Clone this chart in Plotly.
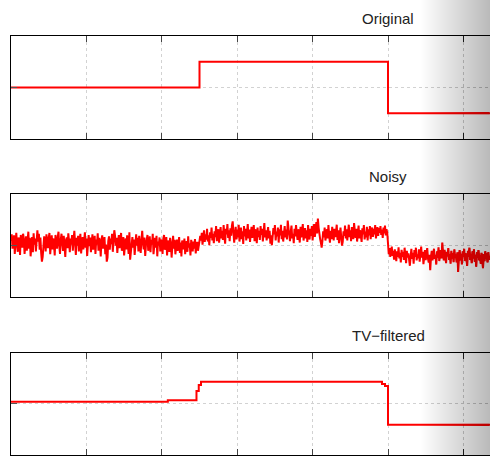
import plotly.graph_objects as go

# ---------------- data ----------------
titles = ["Original", "Noisy", "TV\u2212filtered"]
x_ticks = [100, 200, 300, 400, 500, 600]

orig_x = [0, 250, 500, 635]
orig_y = [0.0, 0.5, -0.5, -0.5]

noisy_seg1 = [
    0.20, 0.55, -0.15, 0.10, 0.50, -0.40, 0.30, 0.62, 0.05, -0.30,
    0.40, 0.15, -0.45, 0.52, 0.25, -0.10, 0.58, 0.35, -0.40, 0.10,
    0.45, -0.25, 0.28, 0.68, -0.15, 0.38, -0.52, 0.12, 0.42, -0.32,
    0.60, 0.05, 0.35, -0.28, 0.50, 0.75, 0.20, 0.58, -0.20, 0.40,
    -0.35, -0.78, -0.55, -0.05, 0.45, 0.15, -0.28, 0.55, 0.28, -0.12,
    0.38, 0.62, -0.42, 0.20, 0.50, -0.18, 0.35, 0.05, -0.48, 0.52,
    0.25, -0.15, 0.42, 0.68, -0.02, -0.40, 0.30, 0.58, 0.12, -0.25,
    0.48, 0.08, -0.55, 0.28, 0.40, -0.12, 0.60, 0.20, -0.32, 0.35,
    0.05, 0.52, -0.25, 0.30, 0.72, 0.12, -0.45, 0.38, 0.00, 0.48,
    -0.28, 0.20, 0.58, -0.38, 0.10, 0.42, -0.18, 0.28, 0.65, -0.10,
    0.35, -0.50, 0.15, 0.52, -0.02, 0.40, -0.32, 0.25, 0.55, -0.20,
    0.12, 0.48, -0.40, 0.30, 0.05, 0.60, -0.25, 0.38, 0.15, -0.52,
    0.28, 0.50, -0.15, 0.20, 0.42, -0.42, 0.05, -0.78, -0.58, 0.22,
    0.45, -0.20, 0.35, 0.08, 0.58, -0.30, 0.20, 0.75, 0.48, 0.00,
    0.38, -0.35, 0.12, 0.52, -0.12, 0.30, 0.62, -0.25, 0.25, 0.42,
    -0.48, 0.15, 0.35, -0.18, 0.50, 0.05, -0.40, 0.65, -0.68, -0.30,
    0.20, 0.42, -0.10, 0.30, -0.45, 0.12, 0.55, 0.00, 0.38, -0.28,
    0.48, 0.08, -0.35, 0.25, 0.72, 0.15, -0.18, 0.40, -0.50, 0.05,
    0.35, 0.52, -0.25, 0.12, 0.45, -0.32, 0.28, 0.05, 0.58, -0.42,
    0.15, 0.38, -0.10, 0.48, -0.52, 0.20, 0.00, 0.40, -0.28, 0.30,
    0.08, -0.40, 0.35, 0.52, -0.20, 0.05, 0.42, -0.48, 0.25, 0.00,
    -0.30, 0.38, 0.12, -0.58, 0.20, 0.48, -0.15, 0.28, -0.42, 0.05,
    0.30, -0.25, 0.00, 0.42, -0.35, 0.15, -0.52, 0.25, 0.05, -0.18,
    0.35, -0.42, 0.08, 0.22, -0.30, 0.45, -0.10, 0.12, -0.48, 0.28,
    -0.02, -0.28, 0.20, -0.15, 0.32, -0.38, 0.05, 0.18, -0.25, 0.10,
]
noisy_seg2 = [
    0.10, 0.48, 0.25, 0.62, 0.05, 0.40, 0.75, 0.18, 0.55, 0.30,
    0.82, 0.20, 0.50, 0.02, 0.65, 0.38, 0.88, 0.25, 0.58, 0.12,
    0.70, 0.42, 0.95, 0.22, 0.60, 0.80, 0.15, 0.52, 0.90, 0.35,
    0.72, 0.28, 1.00, 0.45, 0.10, 0.82, 0.55, 1.05, 0.38, 0.75,
    0.22, 0.85, 0.48, 0.98, 1.18, 0.65, 0.15, 0.58, 0.92, 0.30,
    0.78, 0.40, 1.02, 0.20, 0.62, 0.88, 0.32, 0.70, 0.08, 0.95,
    0.45, 0.82, 0.25, 0.65, 1.05, 0.35, 0.78, 0.18, 0.58, 0.92,
    0.38, 0.68, 1.00, 0.22, 0.80, 0.50, 0.12, 0.88, 0.42, 0.72,
    0.28, 0.95, 0.52, 0.82, 0.20, 0.65, 1.10, 0.40, 0.75, 0.25,
    0.60, 0.90, 0.35, 0.72, 0.10, 0.50, 0.02, 0.38, 0.85, 0.55,
    1.00, 0.25, 0.68, 0.45, 0.88, 0.15, 0.80, 0.50, 1.02, 0.32,
    0.72, 0.20, 0.60, 0.95, 0.40, 0.78, 0.30, 1.22, 0.85, 0.48,
    0.22, 0.68, 0.98, 0.35, 0.58, 0.12, 0.82, 0.45, 1.00, 0.62,
    0.28, 0.80, 0.50, 0.15, 0.92, 0.40, 0.70, 1.05, 0.25, 0.60,
    0.85, 0.35, 0.75, 0.18, 1.00, 0.55, 0.30, 0.82, 0.48, 0.95,
    0.25, 0.70, 1.05, 0.42, 0.78, 1.15, 0.60, 1.32, 0.88, 0.50,
    0.32, 0.15, -0.10, 0.22, 0.70, 0.40, 0.88, 0.25, 0.62, 0.80,
    0.35, 1.00, 0.48, 0.15, 0.72, 0.32, 0.92, 0.55, 0.25, 0.82,
    0.42, 0.65, 1.02, 0.28, 0.75, 0.12, 0.58, 0.88, 0.38, 0.00,
    0.20, 0.70, 0.48, 0.98, 0.35, 0.80, 0.25, 0.62, 1.02, 0.42,
    0.75, 0.22, 0.90, 0.50, 0.32, 1.10, 0.62, 0.38, 0.82, 0.20,
    0.60, 0.98, 0.35, 0.75, 0.48, 0.18, 0.85, 0.55, 1.00, 0.30,
    0.68, 0.40, 0.92, 0.25, 0.80, 0.50, 0.95, 0.32, 0.70, 0.88,
    0.42, 0.82, 0.55, 1.00, 0.35, 0.75, 0.90, 0.48, 0.85, 0.62,
    0.95, 0.52, 0.78, 0.38, 0.88, 0.60, 0.98, 0.50, 0.80, 0.62,
]
noisy_seg3 = [
    -0.20, -0.42, -0.12, -0.55, -0.30, -0.05, -0.50, -0.25, -0.68, -0.18,
    -0.45, -0.75, -0.28, -0.55, -0.08, -0.62, -0.35, -0.82, -0.20, -0.55,
    -0.30, -0.70, -0.10, -0.48, -0.85, -0.25, -0.58, -0.38, -0.75, -0.98,
    -0.52, -0.15, -0.65, -0.35, -0.88, -0.22, -0.55, -0.10, -0.72, -0.42,
    -0.62, -0.18, -0.78, -0.40, -0.05, -0.58, -0.30, -0.90, -0.48, -0.22,
    -0.70, -0.35, -0.12, -0.62, -0.82, -0.45, -1.20, -0.55, -0.25, -0.72,
    -0.40, -0.15, -0.65, -0.45, -0.92, -0.28, -0.58, -0.08, -0.75, -0.42,
    -0.22, -0.62, 0.15, -0.35, -0.72, -0.20, -0.55, -0.85, -0.30, -0.52,
    -0.12, -0.70, -0.42, -0.88, -0.25, -0.62, -0.38, -0.80, -0.18, -0.58,
    -0.45, -0.82, -0.32, -1.28, -0.60, -0.22, -0.72, -0.40, -0.92, -0.28,
    -0.55, -0.15, -0.75, -0.38, -0.65, -0.98, -0.25, -0.52, -0.10, -0.70,
    -0.42, -0.85, -0.28, -0.62, -0.18, -0.78, -0.45, -1.02, -0.32, -0.58,
    -0.22, -0.72, -0.50, -0.88, -0.35, -0.65, -1.10, -0.42, -0.75, -0.28,
    -0.62, -0.38, -0.82, -0.32, -0.68, -0.50,
]
noisy_values = noisy_seg1 + noisy_seg2 + noisy_seg3
noisy_x = list(range(len(noisy_values)))

tv_x = [0, 208, 246, 249, 252, 492, 496, 500, 635]
tv_y = [0.04, 0.07, 0.25, 0.37, 0.43, 0.39, 0.35, -0.41, -0.41]

y_ranges = [[-1, 1], [-2.5, 2.5], [-1, 1]]

# ---------------- figure ----------------
W, H = 490, 456
ML = 11
x_range = [0, (W - ML) / 0.754]
boxes = [(36, 139), (194.3, 297), (352.7, 455)]

fig = go.Figure()
series = [(orig_x, orig_y, "hv"), (noisy_x, noisy_values, "linear"), (tv_x, tv_y, "hv")]
for k, (xs, ys, shp) in enumerate(series):
    ax = "" if k == 0 else str(k + 1)
    fig.add_trace(go.Scatter(x=xs, y=ys, mode="lines", line=dict(color="#ff0000", width=2, shape=shp),
                             xaxis="x" + ax, yaxis="y" + ax, showlegend=False, hoverinfo="skip"))

layout = dict(width=W, height=H, margin=dict(l=ML, r=0, t=0, b=0),
              paper_bgcolor="white", plot_bgcolor="white", showlegend=False)
annotations = []
for k, (top, bot) in enumerate(boxes):
    ax = "" if k == 0 else str(k + 1)
    layout["xaxis" + ax] = dict(domain=[0, 1], range=x_range, anchor="y" + ax,
                                tickvals=x_ticks, showticklabels=False, ticks="inside", ticklen=6,
                                tickcolor="#444", tickwidth=1,
                                showline=True, linecolor="black", linewidth=1, mirror="ticks",
                                showgrid=True, gridcolor="#d2d2d2", griddash="dot", gridwidth=1,
                                zeroline=False)
    layout["yaxis" + ax] = dict(domain=[1 - bot / H, 1 - top / H], range=y_ranges[k], anchor="x" + ax,
                                tickvals=[0], showticklabels=False, ticks="inside", ticklen=6,
                                tickcolor="#555", tickwidth=1,
                                showline=True, linecolor="black", linewidth=1, mirror=False,
                                showgrid=True, gridcolor="#d2d2d2", griddash="dot", gridwidth=1,
                                zeroline=False)
    annotations.append(dict(text=titles[k], xref="x" + ax, x=500, yref="paper",
                            y=1 - (top - 17.5) / H, yanchor="middle", xanchor="center",
                            showarrow=False, font=dict(family="Liberation Sans, Arial", size=15, color="#222")))
layout["annotations"] = annotations

# right-side fading overlay: nested rectangles reaching the right edge (no seams)
shapes = []
g0, g1 = 388, 490
prev_t = 1.0
for p in range(g0, g1):
    frac = (p + 1 - g0) / (g1 - g0)
    t = 1 - 0.25 * frac ** 1.7
    a = 1 - t / prev_t
    prev_t = t
    shapes.append(dict(type="rect", xref="paper", yref="paper",
                       x0=(p - ML) / (W - ML), x1=1.0, y0=0, y1=1,
                       fillcolor="rgba(0,0,0,%.6f)" % a, line=dict(width=0), layer="above"))
layout["shapes"] = shapes

fig.update_layout(**layout)
fig.write_html("out.html")
